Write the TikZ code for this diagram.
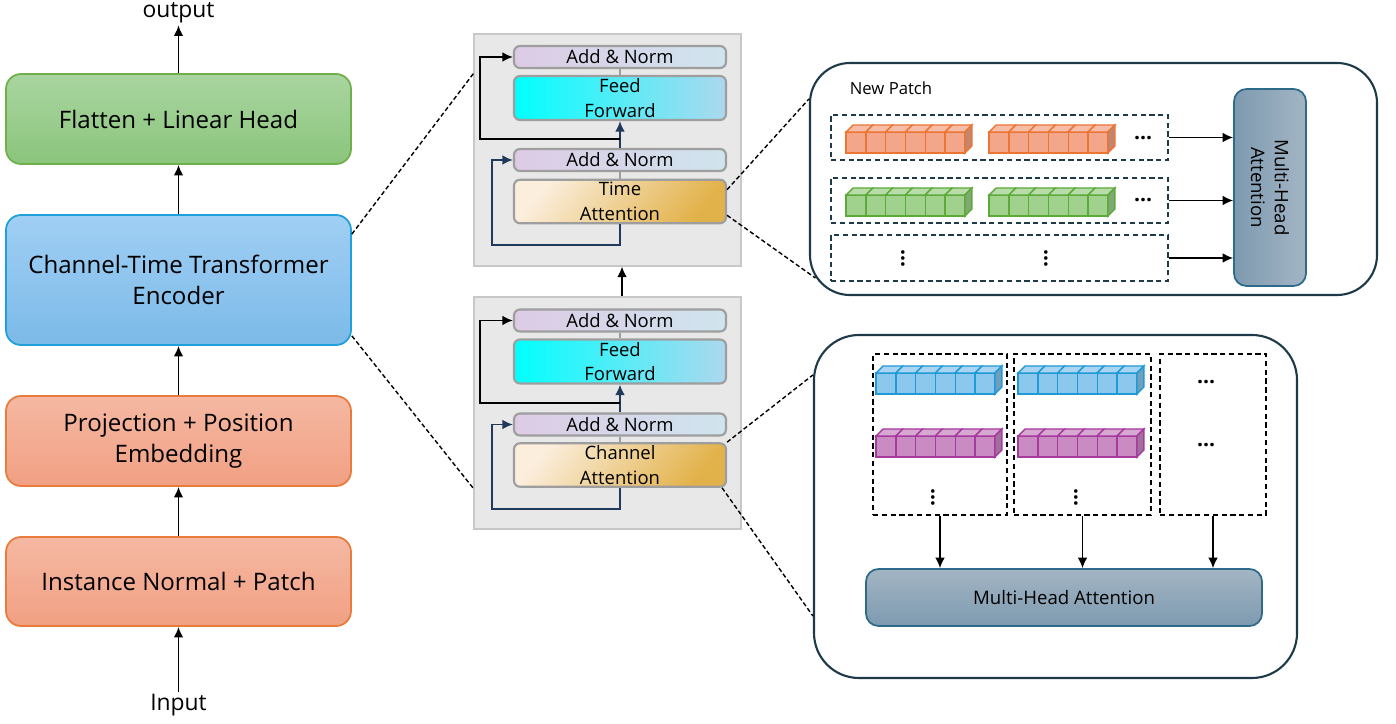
\documentclass[tikz,border=0pt]{standalone}
\usepackage{fontspec}
\setmainfont{Open Sans}
\usepackage{amsmath}
\usetikzlibrary{arrows.meta}

\definecolor{headdraw}{HTML}{6FB04C}
\definecolor{headtop}{HTML}{A9D5A0}
\definecolor{headbot}{HTML}{8BC57C}
\definecolor{encdraw}{HTML}{20A0DA}
\definecolor{enctop}{HTML}{A0CFF4}
\definecolor{encbot}{HTML}{7CBAE8}
\definecolor{embdraw}{HTML}{E97C3C}
\definecolor{embtop}{HTML}{F5B8A2}
\definecolor{embbot}{HTML}{F1A083}
\definecolor{panelfill}{HTML}{E8E8E8}
\definecolor{panelgray}{HTML}{C8C8C8}
\definecolor{layergray}{HTML}{9E9E9E}
\definecolor{normleft}{HTML}{DDCBE5}
\definecolor{normright}{HTML}{CFE5EE}
\definecolor{ffleft}{HTML}{00FFFF}
\definecolor{ffright}{HTML}{ADD8EE}
\definecolor{attleft}{HTML}{FBEEDD}
\definecolor{attright}{HTML}{E2B24A}
\definecolor{navy}{HTML}{1F3A5A}
\definecolor{boxdraw}{HTML}{1E3A48}
\definecolor{mhadark}{HTML}{7E9AB0}
\definecolor{mhalight}{HTML}{A3B5C4}
\definecolor{mhadraw}{HTML}{2E6A8A}
\definecolor{cubeorange}{HTML}{F4A68A}
\definecolor{cubeorangedraw}{HTML}{EB7533}
\definecolor{cubegreen}{HTML}{A0D28E}
\definecolor{cubegreendraw}{HTML}{5DAA3A}
\definecolor{cubeblue}{HTML}{8CC7EE}
\definecolor{cubebluedraw}{HTML}{1F9AD6}
\definecolor{cubepink}{HTML}{C98BC2}
\definecolor{cubepinkdraw}{HTML}{A63A9E}

% a row of six patch cubes: x, y (front bottom left), fill, border
\newcommand{\patchstrip}[4]{%
  \foreach \i in {0,...,5} {
    \draw[draw=#4, fill=#3, line width=0.8pt] ({#1+\i*0.396},#2) rectangle ++(0.396,0.42);
    \draw[draw=#4, fill=#3!75!white, line width=0.8pt] ({#1+\i*0.396},{#2+0.42}) -- ++(0.14,0.14) -- ++(0.396,0) -- ++(-0.14,-0.14) -- cycle;
  }
  \draw[draw=#4, fill=#3!80!black, line width=0.8pt] ({#1+6*0.396},#2) -- ++(0.14,0.14) -- ++(0,0.42) -- ++(-0.14,-0.14) -- cycle;
}

\begin{document}
\begin{tikzpicture}
    \tikzset{
    block/.style={rounded corners=0.3cm, minimum width=6.9cm, line width=1pt, align=center, font=\fontsize{13.7}{18}\selectfont},
    headblk/.style={block, draw=headdraw, top color=headtop, bottom color=headbot},
    encblk/.style={block, draw=encdraw, top color=enctop, bottom color=encbot},
    embblk/.style={block, draw=embdraw, top color=embtop, bottom color=embbot},
    panel/.style={draw=panelgray, fill=panelfill, minimum width=5.34cm, minimum height=4.64cm, line width=0.6pt},
    layer/.style={rounded corners=0.12cm, draw=layergray, line width=1.2pt, minimum width=4.24cm, align=center, inner sep=0pt, font=\fontsize{10.5}{14}\selectfont},
    addnorm/.style={layer, minimum height=0.44cm, left color=normleft, right color=normright},
    ffn/.style={layer, minimum height=0.88cm, left color=ffleft, right color=ffright},
    attn/.style={layer, minimum height=0.87cm, left color=attleft, right color=attright, shading angle=50},
    flow/.style={-{Latex[length=6pt,width=5.5pt]}, line width=1pt},
    skip/.style={flow, navy},
    zoomline/.style={dash pattern=on 2.5pt off 1.5pt, line width=0.8pt},
    bigbox/.style={draw=boxdraw, line width=1.2pt},
    rowbox/.style={draw=boxdraw, dash pattern=on 3pt off 2pt, line width=0.9pt},
    colbox/.style={draw=black, dash pattern=on 3pt off 2pt, line width=0.9pt},
    mha/.style={draw=mhadraw, line width=1pt, rounded corners=0.25cm},
    small/.style={font=\fontsize{10.6}{13.5}\selectfont},
    dotsym/.style={inner sep=0pt, font=\fontsize{12}{12}\bfseries},
    }
    \useasboundingbox (0,0) rectangle (27.92,14.46);

    % left column
    \node[headblk, minimum height=1.8cm] (head) at (3.57,12.08) {Flatten + Linear Head};
    \node[encblk, minimum height=2.6cm] (enc) at (3.57,8.86) {Channel-Time Transformer\\Encoder};
    \node[embblk, minimum height=1.8cm] (proj) at (3.57,5.64) {Projection + Position\\Embedding};
    \node[embblk, minimum height=1.78cm] (inst) at (3.57,2.83) {Instance Normal + Patch};
    \node[font=\fontsize{13}{16}\selectfont, inner sep=1pt] (out) at (3.57,14.2) {output};
    \node[font=\fontsize{13}{16}\selectfont, inner sep=1pt] (in) at (3.57,0.36) {Input};

    \draw[flow] (head) -- (out);
    \draw[flow] (enc) -- (head);
    \draw[flow] (proj) -- (enc);
    \draw[flow] (inst) -- (proj);
    \draw[flow] (in) -- (inst);

    % encoder layers
    \node[panel] (tpanel) at (12.15,11.46) {};
    \node[panel] (bpanel) at (12.15,6.2) {};

    \node[addnorm] (an1) at (12.4,13.32) {Add \& Norm};
    \node[ffn] (ff1) at (12.4,12.5) {Feed\\Forward};
    \node[addnorm] (an2) at (12.4,11.26) {Add \& Norm};
    \node[attn] (ta) at (12.4,10.43) {Time\\Attention};

    \node[addnorm] (an3) at (12.4,8.05) {Add \& Norm};
    \node[ffn] (ff2) at (12.4,7.23) {Feed\\Forward};
    \node[addnorm] (an4) at (12.4,5.97) {Add \& Norm};
    \node[attn] (ca) at (12.4,5.16) {Channel\\Attention};

    \draw[layergray, line width=0.8pt] (an1) -- (ff1);
    \draw[layergray, line width=0.8pt] (an2) -- (ta);
    \draw[layergray, line width=0.8pt] (an3) -- (ff2);
    \draw[layergray, line width=0.8pt] (an4) -- (ca);

    \draw[skip] (an2) -- (ff1);
    \draw[skip] (an4) -- (ff2);
    \coordinate (j1) at (12.4,11.68);
    \coordinate (j2) at (12.4,6.4);
    \draw[flow] (j1) -- ++(-2.8,0) |- (an1);
    \draw[flow] (j2) -- ++(-2.8,0) |- (an3);
    \draw[skip] (ta.south) -- ++(0,-0.42) -- ++(-2.56,0) |- (an2);
    \draw[skip] (ca.south) -- ++(0,-0.42) -- ++(-2.56,0) |- (an4);

    \draw[flow] ([xshift=0.29cm]bpanel.north) -- ([xshift=0.29cm]tpanel.south);

    % zoom boxes
    \node[bigbox, rounded corners=0.8cm, minimum width=11.34cm, minimum height=4.64cm] (tbox) at (21.87,10.88) {};
    \node[bigbox, rounded corners=0.9cm, minimum width=9.66cm, minimum height=6.86cm] (cbox) at (21.11,4.33) {};

    \draw[zoomline] ([yshift=-0.4cm]enc.north east) -- ([yshift=-0.8cm]tpanel.north west);
    \draw[zoomline] ([yshift=0.2cm]enc.south east) -- ([yshift=0.82cm]bpanel.south west);
    \draw[zoomline] ([yshift=-0.22cm]ta.north east) -- ([yshift=-0.74cm]tbox.north west);
    \draw[zoomline] ([yshift=0.18cm]ta.south east) -- ([xshift=0.13cm,yshift=0.36cm]tbox.south west);
    \draw[zoomline] (ca.north east) -- ([yshift=-0.82cm]cbox.north west);
    \draw[zoomline] ([xshift=-0.1cm]ca.south east) -- ([yshift=1.26cm]cbox.south west);

    % time attention detail
    \node[font=\fontsize{9.5}{12}\selectfont] (np) at (17.82,12.7) {New Patch};
    \node[rowbox, minimum width=6.74cm, minimum height=0.9cm] (r1) at (19.99,11.71) {};
    \node[rowbox, minimum width=6.74cm, minimum height=0.9cm] (r2) at (19.99,10.45) {};
    \node[rowbox, minimum width=6.74cm, minimum height=0.92cm] (r3) at (19.99,9.3) {};
    \node[mha, minimum width=1.44cm, minimum height=3.94cm, left color=mhadark, right color=mhalight] (tmha) at (25.4,10.71) {};
    \node[small, rotate=-90, align=center] (tmhatext) at (tmha) {Multi-Head\\Attention};

    \patchstrip{16.92}{11.4}{cubeorange}{cubeorangedraw}
    \patchstrip{19.78}{11.4}{cubeorange}{cubeorangedraw}
    \patchstrip{16.92}{10.14}{cubegreen}{cubegreendraw}
    \patchstrip{19.78}{10.14}{cubegreen}{cubegreendraw}
    \node[dotsym] (d1) at (22.86,11.7) {\dots};
    \node[dotsym] (d2) at (22.86,10.45) {\dots};
    \node[dotsym, rotate=90] (v1) at (18.06,9.3) {\dots};
    \node[dotsym, rotate=90] (v2) at (20.92,9.3) {\dots};

    \draw[flow, line width=0.8pt] (r1.east) -- (r1.east -| tmha.west);
    \draw[flow, line width=0.8pt] (r2.east) -- (r2.east -| tmha.west);
    \draw[flow, line width=0.8pt] (r3.east) -- (r3.east -| tmha.west);

    % channel attention detail
    \node[colbox, minimum width=2.68cm, minimum height=3.22cm] (c1) at (18.8,5.77) {};
    \node[colbox, minimum width=2.74cm, minimum height=3.22cm] (c2) at (21.65,5.77) {};
    \node[colbox, minimum width=2.12cm, minimum height=3.22cm] (c3) at (24.26,5.77) {};

    \patchstrip{17.52}{6.58}{cubeblue}{cubebluedraw}
    \patchstrip{20.36}{6.58}{cubeblue}{cubebluedraw}
    \patchstrip{17.52}{5.32}{cubepink}{cubepinkdraw}
    \patchstrip{20.36}{5.32}{cubepink}{cubepinkdraw}
    \node[dotsym, rotate=90] (v3) at (18.66,4.52) {\dots};
    \node[dotsym, rotate=90] (v4) at (21.52,4.52) {\dots};
    \node[dotsym] (d3) at (24.12,6.82) {\dots};
    \node[dotsym] (d4) at (24.12,5.56) {\dots};

    \node[mha, small, minimum width=7.92cm, minimum height=1.14cm, top color=mhalight, bottom color=mhadark] (cmha) at (21.28,2.51) {Multi-Head Attention};

    \draw[flow, line width=0.8pt] (c1.south) -- (c1.south |- cmha.north);
    \draw[flow, line width=0.8pt] (c2.south) -- (c2.south |- cmha.north);
    \draw[flow, line width=0.8pt] (c3.south) -- (c3.south |- cmha.north);

\end{tikzpicture}
\end{document}
